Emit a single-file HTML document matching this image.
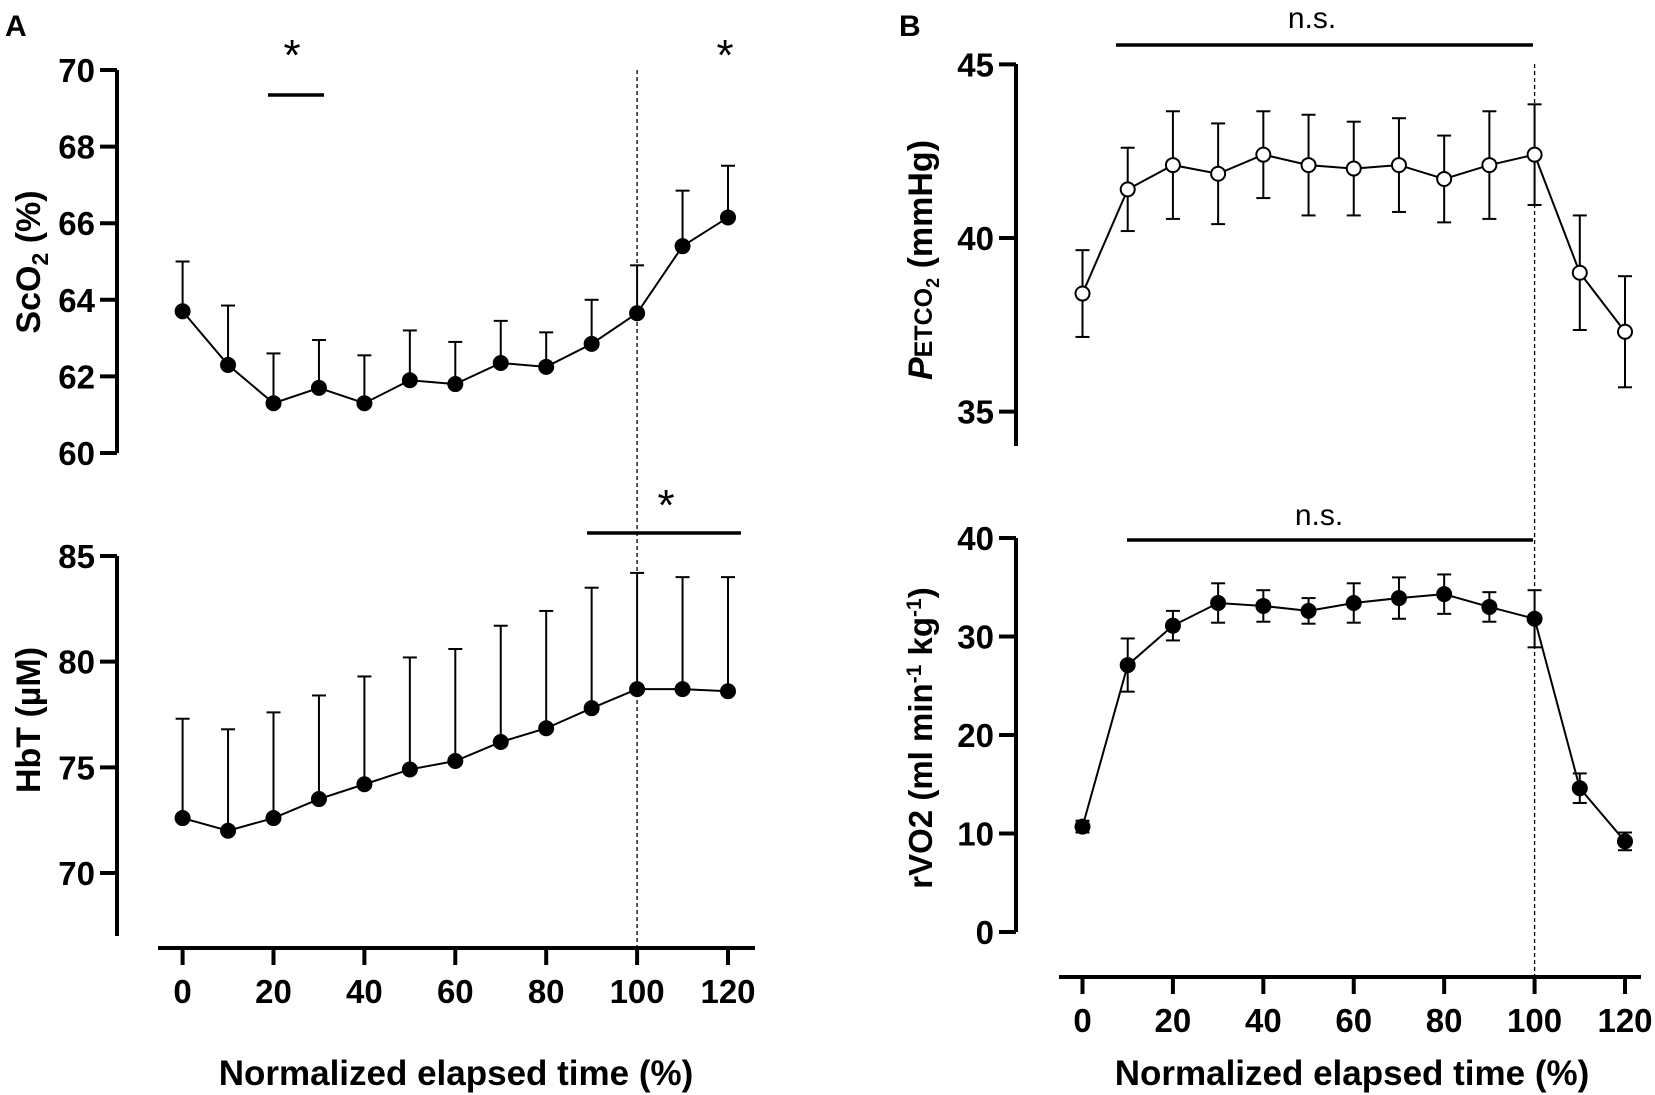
<!DOCTYPE html>
<html><head><meta charset="utf-8"><style>
html,body{margin:0;padding:0;background:#fff}
svg{display:block;font-family:"Liberation Sans",Arial,sans-serif}
</style></head><body>
<svg id="c" width="1655" height="1095" viewBox="0 0 1655 1095" xmlns="http://www.w3.org/2000/svg"></svg>
<script>
const xTicks=[0,20,40,60,80,100,120];
const times=[0,10,20,30,40,50,60,70,80,90,100,110,120];
const sco2=[63.7,62.3,61.3,61.7,61.3,61.9,61.8,62.35,62.25,62.85,63.65,65.4,66.15];
const sco2Up=[65.0,63.85,62.6,62.95,62.55,63.2,62.9,63.45,63.15,64.0,64.9,66.85,67.5];
const hbt=[72.6,72.0,72.6,73.5,74.2,74.9,75.3,76.2,76.85,77.8,78.7,78.7,78.6];
const hbtUp=[77.3,76.8,77.6,78.4,79.3,80.2,80.6,81.7,82.4,83.5,84.2,84.0,84.0];
const petco2=[38.4,41.4,42.1,41.85,42.4,42.1,42.0,42.1,41.7,42.1,42.4,39.0,37.3];
const petco2Err=[1.25,1.2,1.55,1.45,1.25,1.45,1.35,1.35,1.25,1.55,1.45,1.65,1.6];
const rvo2=[10.7,27.1,31.1,33.4,33.1,32.6,33.4,33.9,34.3,33.0,31.8,14.6,9.2];
const rvo2Err=[0.6,2.7,1.5,2.0,1.6,1.3,2.0,2.1,2.0,1.5,2.9,1.5,0.9];
const sco2Ticks=[60,62,64,66,68,70];
const hbtTicks=[70,75,80,85];
const petTicks=[35,40,45];
const rvoTicks=[0,10,20,30,40];

const S=document.getElementById('c');const NS='http://www.w3.org/2000/svg';
function el(t,a,txt){const e=document.createElementNS(NS,t);for(const k in a)e.setAttribute(k,a[k]);if(txt!=null)e.textContent=txt;S.appendChild(e);return e;}
function lin(d0,d1,r0,r1){return v=>r0+(v-d0)*(r1-r0)/(d1-d0);}
const xA=lin(0,120,182.6,728),xB=lin(0,120,1082.5,1625);
function xAxis(xs,y,x0,x1,nm){
 const g=el('line',{x1:x0,x2:x1,y1:y,y2:y,stroke:'#000','stroke-width':4});
 
 xTicks.forEach(t=>{el('line',{x1:xs(t),x2:xs(t),y1:y,y2:y+17,stroke:'#000','stroke-width':4});
  const tx=el('text',{x:xs(t),y:y+55,'text-anchor':'middle','font-size':33,'font-weight':'bold'},t);
  });
}
function yAxis(ys,ticks,x,yTop,yBot,nm){
 const l=el('line',{x1:x,x2:x,y1:yTop,y2:yBot,stroke:'#000','stroke-width':4});
 
 ticks.forEach(t=>{el('line',{x1:x-17,x2:x,y1:ys(t),y2:ys(t),stroke:'#000','stroke-width':4});
  const tx=el('text',{x:x-22,y:ys(t)+12,'text-anchor':'end','font-size':33,'font-weight':'bold'},t);
  });
}
function series(xs,ys,vals,lo,hi,open,nm,capOnlyUp){
 vals.forEach((v,i)=>{const x=xs(times[i]);
  const yh=ys(hi[i]),yl=ys(lo[i]);
  el('line',{x1:x,x2:x,y1:yh,y2:yl,stroke:'#000','stroke-width':2});
  el('line',{x1:x-7,x2:x+7,y1:yh,y2:yh,stroke:'#000','stroke-width':2});
  if(!capOnlyUp)el('line',{x1:x-7,x2:x+7,y1:yl,y2:yl,stroke:'#000','stroke-width':2});});
 const p=el('polyline',{points:vals.map((v,i)=>xs(times[i])+','+ys(v)).join(' '),fill:'none',stroke:'#000','stroke-width':2});
 
 vals.forEach((v,i)=>{const c=el('circle',{cx:xs(times[i]),cy:ys(v),r:7,fill:open?'#fff':'#000',stroke:'#000','stroke-width':2});
  });
}
function txt(x,y,s,size,w,nm,anchor){const t=el('text',{x:x,y:y,'font-size':size,'font-weight':w||'normal','text-anchor':anchor||'middle'},s);return t;}
function hline(x0,x1,y,nm){const l=el('line',{x1:x0,x2:x1,y1:y,y2:y,stroke:'#000','stroke-width':3.5});}

// Panel A
txt(5,36,'A',30,'bold','panel-a-label','start');
const ySc=lin(60,70,453,70),yHb=lin(70,85,873,556);
el('line',{x1:xA(100),x2:xA(100),y1:70,y2:948,stroke:'#000','stroke-width':1.3,'stroke-dasharray':'4,3'});
yAxis(ySc,sco2Ticks,117,70,453,'sco2');
yAxis(yHb,hbtTicks,117,556,936,'hbt');
xAxis(xA,948,158,755,'panel-a');
series(xA,ySc,sco2,sco2,sco2Up,false,'sco2',true);
series(xA,yHb,hbt,hbt,hbtUp,false,'hbt',true);
hline(268,324,95,'sig-bar-a1');txt(292,70,'*',44,'normal','sig-star');
txt(725,70,'*',44,'normal','sig-star');
hline(587,741,533,'sig-bar-a2');txt(666,520,'*',44,'normal','sig-star');
let t=el('text',{x:0,y:0,'font-size':34,'font-weight':'bold','text-anchor':'middle',transform:'translate(40,262) rotate(-90)'});
t.innerHTML='ScO<tspan font-size="23" dy="8">2</tspan><tspan dy="-8"> (%)</tspan>';
t=el('text',{x:0,y:0,'font-size':34,'font-weight':'bold','text-anchor':'middle',transform:'translate(40,720) rotate(-90)'},'HbT (µM)');
txt(456,1085,'Normalized elapsed time (%)',35,'bold','panel-a-x-title');

// Panel B
txt(899,36,'B',30,'bold','panel-b-label','start');
const yPe=lin(35,45,411.6,64.4),yRv=lin(0,40,932,538);
el('line',{x1:xB(100),x2:xB(100),y1:64,y2:977,stroke:'#000','stroke-width':1.3,'stroke-dasharray':'4,3'});
yAxis(yPe,petTicks,1016,64,446,'petco2');
yAxis(yRv,rvoTicks,1016,538,932,'rvo2');
xAxis(xB,977,1059,1641,'panel-b');
series(xB,yRv,rvo2,rvo2.map((v,i)=>v-rvo2Err[i]),rvo2.map((v,i)=>v+rvo2Err[i]),false,'rvo2',false);
series(xB,yPe,petco2,petco2.map((v,i)=>v-petco2Err[i]),petco2.map((v,i)=>v+petco2Err[i]),true,'petco2',false);
hline(1116,1533,45,'ns-bar-top');txt(1312,28,'n.s.',30,'normal','ns-label-top');
hline(1127,1533,540,'ns-bar-bottom');txt(1319,525,'n.s.',30,'normal','ns-label-bottom');
t=el('text',{x:0,y:0,'font-size':34,'font-weight':'bold','text-anchor':'middle',transform:'translate(932,260) rotate(-90)'});
t.innerHTML='<tspan font-style="italic">P</tspan><tspan font-size="25">ETCO</tspan><tspan font-size="18" dy="7">2</tspan><tspan dy="-7"> (mmHg)</tspan>';
t=el('text',{x:0,y:0,'font-size':33,'font-weight':'bold','text-anchor':'middle',transform:'translate(932,738) rotate(-90)'});
t.innerHTML='rVO2 (ml min<tspan font-size="21" dy="-11">-1</tspan><tspan dy="11"> kg</tspan><tspan font-size="21" dy="-11">-1</tspan><tspan dy="11">)</tspan>';
txt(1352,1085,'Normalized elapsed time (%)',35,'bold','panel-b-x-title');
</script>
</body></html>
